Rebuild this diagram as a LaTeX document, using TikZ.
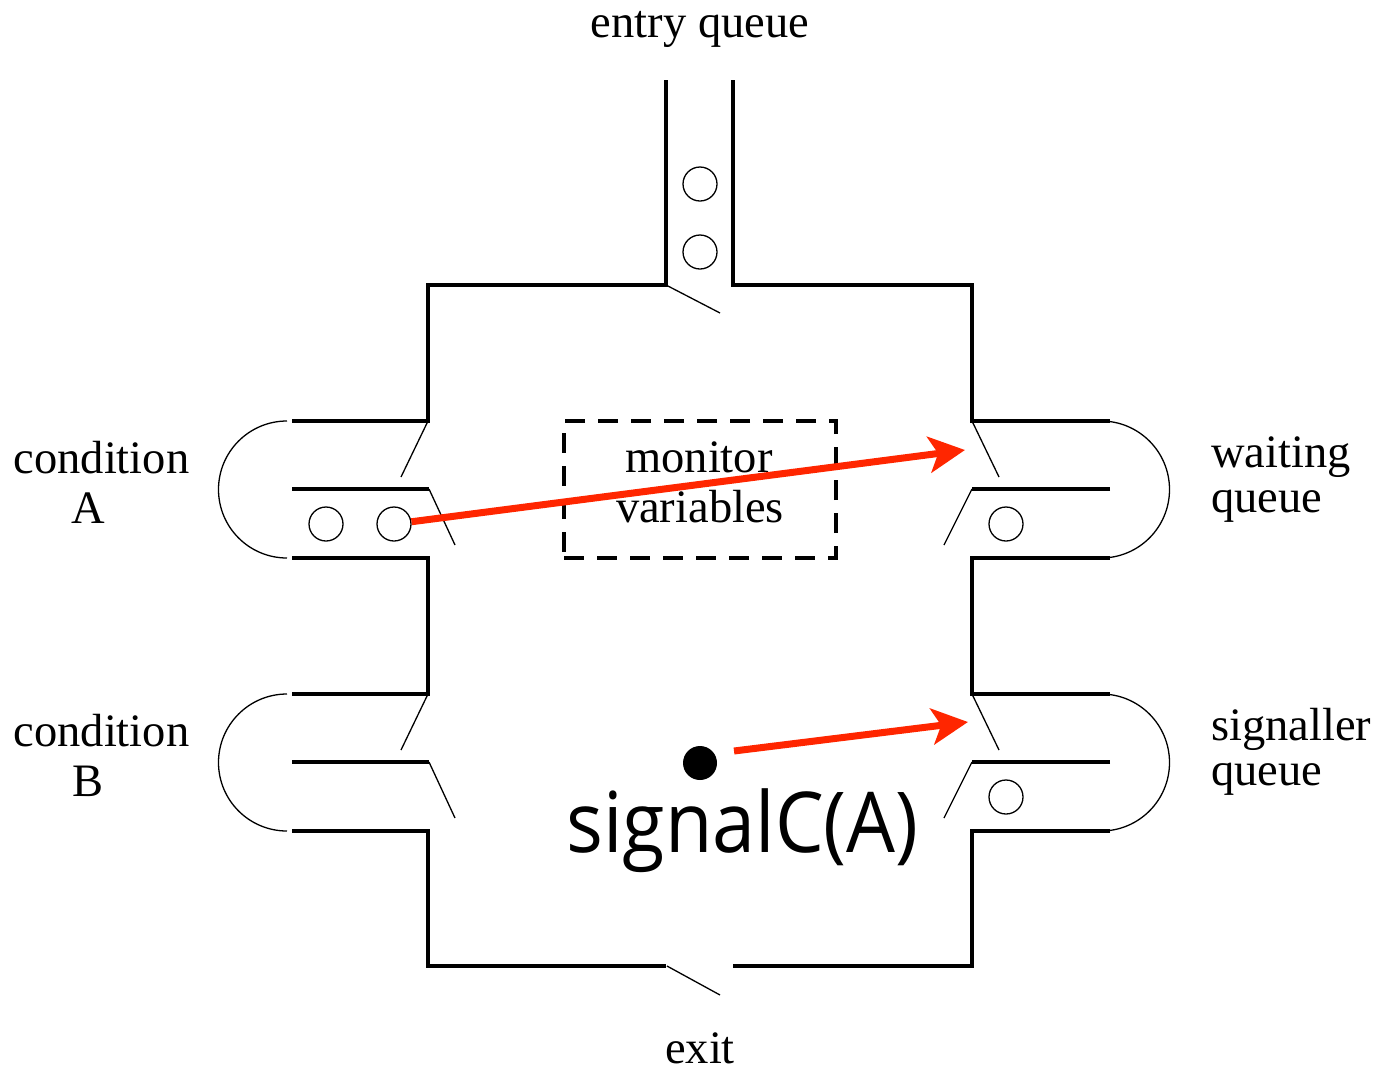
\documentclass[tikz,border=0pt]{standalone}
\usepackage{fontspec}
\setmainfont{Liberation Serif}
\newfontfamily\sigfont{Open Sans}
\usetikzlibrary{arrows.meta}
\definecolor{arrowred}{RGB}{255,38,0}

\begin{document}
\begin{tikzpicture}[x=1pt,y=-1pt,
  wall/.style={line width=4pt, line join=miter, line cap=butt},
  door/.style={line width=1.3pt},
  hood/.style={line width=1.3pt},
  proc/.style={circle, draw, line width=1.3pt, minimum size=34pt, inner sep=0pt},
  label/.style={inner sep=0pt, anchor=base, font=\fontsize{46.5pt}{50pt}\selectfont},
  lbl/.style={label, anchor=base west},
  varbox/.style={draw, line width=4pt, dash pattern=on 20pt off 13pt, minimum width=272pt, minimum height=137pt, inner sep=0pt},
  move/.style={draw=arrowred, line width=7pt, -{Stealth[length=36pt, width=36pt, inset=9pt]}}
]
\useasboundingbox (0,0) rectangle (1379,1072);

% walls of the monitor
\draw[wall] (666,80) -- (666,285) -- (428,285) -- (428,421) -- (292,421);
\draw[wall] (733,80) -- (733,285) -- (972,285) -- (972,421) -- (1110,421);
\draw[wall] (292,489) -- (429,489);
\draw[wall] (292,558) -- (428,558) -- (428,694) -- (292,694);
\draw[wall] (292,762) -- (429,762);
\draw[wall] (292,831) -- (428,831) -- (428,966) -- (666,966);
\draw[wall] (1110,489) -- (972,489);
\draw[wall] (1110,558) -- (972,558) -- (972,694) -- (1110,694);
\draw[wall] (1110,762) -- (972,762);
\draw[wall] (1110,831) -- (972,831) -- (972,966) -- (733,966);

% rounded ends of the queues
\draw[hood] (287,421) arc[start angle=90, end angle=270, radius=68.5pt];
\draw[hood] (287,694) arc[start angle=90, end angle=270, radius=68.5pt];
\draw[hood] (1101,421) arc[start angle=90, end angle=-90, radius=68.5pt];
\draw[hood] (1101,694) arc[start angle=90, end angle=-90, radius=68.5pt];

% swinging doors
\draw[door] (666,285) -- (720,313);
\draw[door] (428,421) -- (401,477);
\draw[door] (429,489) -- (455,545);
\draw[door] (428,694) -- (401,750);
\draw[door] (429,762) -- (455,818);
\draw[door] (972,421) -- (999,477);
\draw[door] (972,489) -- (944,545);
\draw[door] (972,694) -- (999,750);
\draw[door] (972,762) -- (944,818);
\draw[door] (667,966) -- (720,995);

% waiting processes
\node[proc] (e1) at (700,184) {};
\node[proc] (e2) at (700,252) {};
\node[proc] (cA1) at (326,524) {};
\node[proc] (cA2) at (394,524) {};
\node[proc] (wq1) at (1006,524) {};
\node[proc] (sq1) at (1006,797) {};

% active process
\node[circle, fill=black, minimum size=34pt, inner sep=0pt] (act) at (700,763) {};

% monitor variables
\node[varbox] (vars) at (700,489.5) {};
\node[label] (varsA) at (699,472) {monitor};
\node[label] (varsB) at (700,522) {variables};

% labels
\node[label] (entry) at (700,37) {entry queue};
\node[label] (condA) at (101.5,473) {condition};
\node[label] (condAn) at (88,523) {A};
\node[label] (condB) at (101.5,746) {condition};
\node[label] (condBn) at (88,796) {B};
\node[lbl] (waitA) at (1211,467) {waiting};
\node[lbl] (waitB) at (1211,512) {queue};
\node[lbl] (sigA) at (1211,740) {signaller};
\node[lbl] (sigB) at (1211,785) {queue};
\node[label] (exit) at (700,1063) {exit};
\node[inner sep=0pt, anchor=base] (op) at (742.5,852)
  {\scalebox{0.92}[1]{\sigfont\fontsize{84pt}{90pt}\selectfont signalC(A)}};

% moves made by the signal
\coordinate (tipW) at (965,450);
\coordinate (tailS) at (734,751);
\coordinate (tipS) at (968,722);
\draw[move] (cA2) -- (tipW);
\draw[move] (tailS) -- (tipS);
\end{tikzpicture}
\end{document}
